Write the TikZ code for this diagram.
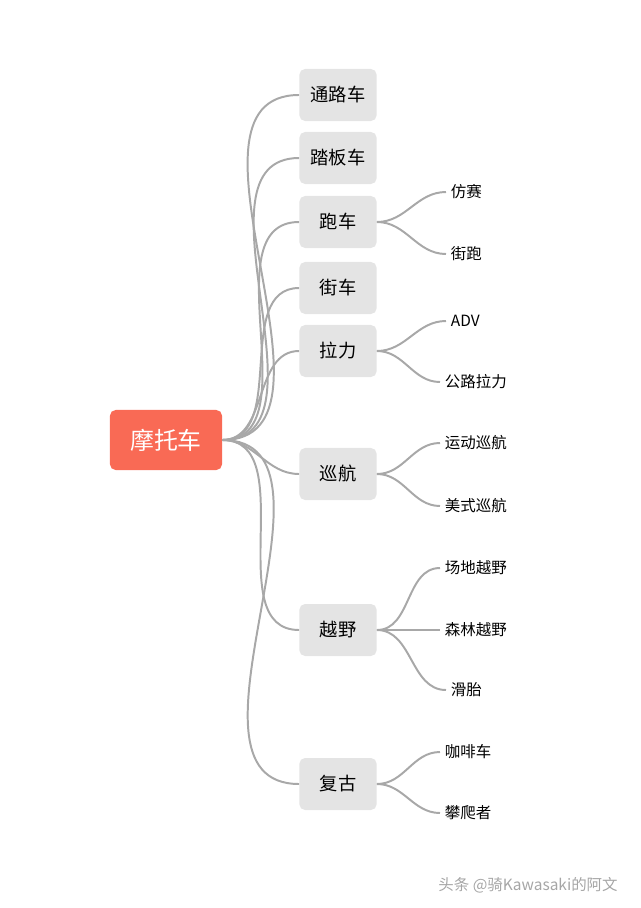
\documentclass[tikz,border=0pt]{standalone}
\usepackage{fontspec}
\newfontfamily\cjk{Noto Sans CJK SC}
\usetikzlibrary{positioning}
\definecolor{rootred}{HTML}{F96A55}
\definecolor{boxgray}{HTML}{E4E4E4}
\definecolor{linegray}{HTML}{A8A8A8}
\tikzset{x=0.025cm,y=-0.025cm,
    rootbox/.style={
        rounded corners=4pt,
        fill=rootred,
        text=white,
        font=\cjk\fontsize{17}{20}\selectfont,
        minimum width=2.8cm,
        minimum height=1.5cm},
    catbox/.style={
        rounded corners=4pt,
        fill=boxgray,
        font=\cjk\fontsize{13}{16}\selectfont,
        minimum width=1.93cm,
        minimum height=1.3cm},
    leaf/.style={
        font=\cjk\fontsize{11}{14}\selectfont,
        anchor=west},
    branch/.style={
        draw=linegray,
        line width=1.4pt,
        out=0,in=180}}

\begin{document}
\begin{tikzpicture}
        \useasboundingbox (0,0) rectangle (640,908);
        \node[rootbox] (moto) at (166,440) {摩托车};

        \node[catbox] (c1) at (338,95) {通路车};
        \node[catbox] (c2) at (338,158) {踏板车};
        \node[catbox] (c3) at (338,222) {跑车};
        \node[catbox] (c4) at (338,288) {街车};
        \node[catbox] (c5) at (338,351) {拉力};
        \node[catbox] (c6) at (338,474) {巡航};
        \node[catbox] (c7) at (338,630) {越野};
        \node[catbox] (c8) at (338,784) {复古};

        \node[leaf] (l1) at (446,192) {仿赛};
        \node[leaf] (l2) at (446,254) {街跑};
        \node[leaf] (l3) at (446,321) {ADV};
        \node[leaf] (l4) at (440,382) {公路拉力};
        \node[leaf] (l5) at (440,443) {运动巡航};
        \node[leaf] (l6) at (440,506) {美式巡航};
        \node[leaf] (l7) at (440,568) {场地越野};
        \node[leaf] (l8) at (440,630) {森林越野};
        \node[leaf] (l9) at (446,690) {滑胎};
        \node[leaf] (l10) at (440,752) {咖啡车};
        \node[leaf] (l11) at (440,813) {攀爬者};

        \foreach \c in {c1,c2,c3,c4,c5,c6,c7,c8}
            \draw[branch] (moto.east) to (\c.west);

        \draw[branch] (c3.east) to (l1.west);
        \draw[branch] (c3.east) to (l2.west);
        \draw[branch] (c5.east) to (l3.west);
        \draw[branch] (c5.east) to (l4.west);
        \draw[branch] (c6.east) to (l5.west);
        \draw[branch] (c6.east) to (l6.west);
        \draw[branch] (c7.east) to (l7.west);
        \draw[branch] (c7.east) to (l8.west);
        \draw[branch] (c7.east) to (l9.west);
        \draw[branch] (c8.east) to (l10.west);
        \draw[branch] (c8.east) to (l11.west);

        % watermark
        \node[font=\cjk\fontsize{11}{14}\selectfont,text=white!30!gray] (mark) at (528,885) {头条 @骑\textit{Kawasaki}的阿文};
    \end{tikzpicture}
\end{document}
